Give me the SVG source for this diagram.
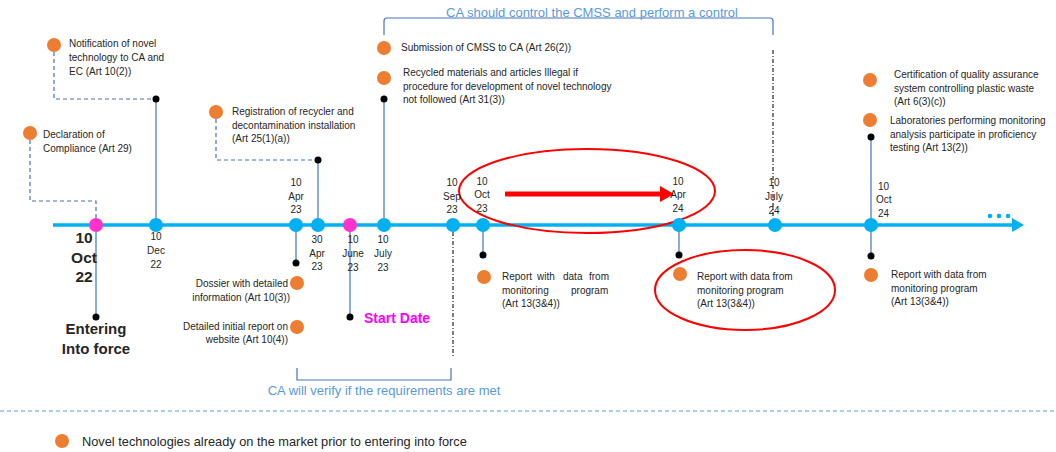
<svg xmlns="http://www.w3.org/2000/svg" width="1056" height="452" viewBox="0 0 1056 452">
<style>
text{font-family:"Liberation Sans",Arial,sans-serif;fill:#262626}
.t{font-size:10px}
.d{font-size:10px;text-anchor:middle}
.v{stroke:#4472C4;stroke-width:1.2;fill:none}
.dash{stroke:#4472C4;stroke-width:1.2;fill:none;stroke-dasharray:4 3}
.dd{stroke:#262626;stroke-width:1.2;fill:none;stroke-dasharray:4 2 1 2}
.br{stroke:#4472C4;stroke-width:1.2;fill:none}
.bt{font-size:13px;fill:#5B9BD5;text-anchor:middle}
.o{fill:#ED7D31}
.k{fill:#000}
.b{fill:#00B0F0}
.p{fill:#FF33CC}
</style>
<g id="connectors">
<line x1="53" y1="225" x2="1016" y2="225" stroke="#00B0F0" stroke-width="3.5"/>
<path d="M1012,218 L1024,225 L1012,232 z" fill="#00B0F0"/>
<path class="dash" d="M30,140 V201 H96 V218"/>
<path class="dash" d="M54,52 V99 H156"/>
<line class="v" x1="156" y1="99" x2="156" y2="225"/>
<line class="v" x1="96" y1="225" x2="96" y2="316"/>
<line class="v" x1="296" y1="225" x2="296" y2="263"/>
<path class="dash" d="M216,119 V160 H318"/>
<line class="v" x1="318" y1="160" x2="318" y2="225"/>
<line class="v" x1="350" y1="225" x2="350" y2="317"/>
<line class="v" x1="384" y1="99" x2="384" y2="225"/>
<line class="dd" x1="453" y1="232" x2="453" y2="358"/>
<line class="v" x1="483" y1="225" x2="483" y2="255"/>
<line class="v" x1="679" y1="225" x2="679" y2="255"/>
<line class="dd" x1="773" y1="50" x2="773" y2="218"/>
<line class="v" x1="871" y1="137" x2="871" y2="256"/>
<path class="br" d="M384,35 V21 Q384,18 387,18 H770 Q773,18 773,21 V35"/>
<path class="br" d="M297,368 V380 H451 V368"/>
<line x1="0" y1="411" x2="1056" y2="411" stroke="#5B9BD5" stroke-width="1" stroke-dasharray="4 3"/>
</g>
<g id="arrow-red">
<line x1="505" y1="194" x2="662" y2="194" stroke="#FF0000" stroke-width="5"/>
<path d="M660,186 L674,194 L660,202 z" fill="#FF0000"/>
</g>
<g id="ellipse-top"><ellipse cx="587" cy="191" rx="128" ry="42" fill="none" stroke="#FF0000" stroke-width="2"/></g>
<g id="ellipse-bottom"><ellipse cx="745" cy="290" rx="90" ry="40" fill="none" stroke="#FF0000" stroke-width="2"/></g>
<g id="n-oct22">
<circle class="p" cx="96" cy="225" r="7"/>
<circle class="k" cx="96" cy="317" r="3.5"/>
<text x="84" y="243" font-size="15.5" font-weight="bold" text-anchor="middle">10</text>
<text x="84" y="263" font-size="15.5" font-weight="bold" text-anchor="middle">Oct</text>
<text x="84" y="282" font-size="15.5" font-weight="bold" text-anchor="middle">22</text>
<text x="96" y="334" font-size="15" font-weight="bold" text-anchor="middle">Entering</text>
<text x="96" y="354" font-size="15" font-weight="bold" text-anchor="middle">Into force</text>
</g>
<g id="n-declaration">
<circle class="o" cx="30" cy="133" r="7"/>
<text class="t" x="43" y="138">Declaration of</text>
<text class="t" x="43" y="152">Compliance (Art 29)</text>
</g>
<g id="n-notification">
<circle class="o" cx="54" cy="45" r="7"/>
<text class="t" x="69" y="47">Notification of novel</text>
<text class="t" x="69" y="61">technology to CA and</text>
<text class="t" x="69" y="75">EC (Art 10(2))</text>
</g>
<g id="n-dec22">
<circle class="b" cx="156" cy="225" r="7"/>
<circle class="k" cx="156" cy="99" r="3.5"/>
<text class="d" x="156" y="240">10</text>
<text class="d" x="156" y="254">Dec</text>
<text class="d" x="156" y="268">22</text>
</g>
<g id="n-apr23">
<circle class="b" cx="296" cy="225" r="7"/>
<circle class="k" cx="296" cy="263" r="3.5"/>
<text class="d" x="296" y="186">10</text>
<text class="d" x="296" y="200">Apr</text>
<text class="d" x="296" y="213">23</text>
<circle class="o" cx="297" cy="283" r="7"/>
<text class="t" x="288" y="287" text-anchor="end">Dossier with detailed</text>
<text class="t" x="290" y="301" text-anchor="end">information (Art 10(3))</text>
<circle class="o" cx="297" cy="327" r="7"/>
<text class="t" x="288" y="330" text-anchor="end">Detailed initial report on</text>
<text class="t" x="288" y="343" text-anchor="end">website (Art 10(4))</text>
</g>
<g id="n-registration">
<circle class="o" cx="216" cy="112" r="7"/>
<text class="t" x="232" y="115">Registration of recycler and</text>
<text class="t" x="232" y="129">decontamination installation</text>
<text class="t" x="232" y="142">(Art 25(1)(a))</text>
</g>
<g id="n-apr23b">
<circle class="b" cx="318" cy="225" r="7"/>
<circle class="k" cx="318" cy="160" r="3.5"/>
<text class="d" x="317" y="243">30</text>
<text class="d" x="317" y="257">Apr</text>
<text class="d" x="317" y="270">23</text>
</g>
<g id="n-june23">
<circle class="p" cx="350" cy="225" r="7"/>
<circle class="k" cx="350" cy="317" r="3.5"/>
<text class="d" x="353" y="243">10</text>
<text class="d" x="353" y="257">June</text>
<text class="d" x="353" y="271">23</text>
<text x="364" y="323" font-size="14" font-weight="bold" style="fill:#FF00FF">Start Date</text>
</g>
<g id="n-july23">
<circle class="b" cx="384" cy="225" r="7"/>
<circle class="k" cx="384" cy="99" r="3.5"/>
<text class="d" x="383" y="243">10</text>
<text class="d" x="383" y="257">July</text>
<text class="d" x="383" y="271">23</text>
<circle class="o" cx="384" cy="48" r="7"/>
<text class="t" x="401" y="51">Submission of CMSS to CA (Art 26(2))</text>
<circle class="o" cx="384" cy="78" r="7"/>
<text class="t" x="403" y="76">Recycled materials and articles Illegal if</text>
<text class="t" x="403" y="90">procedure for development of novel technology</text>
<text class="t" x="403" y="103">not followed (Art 31(3))</text>
</g>
<g id="n-ca-control"><text class="bt" x="592" y="17">CA should control the CMSS and perform a control</text></g>
<g id="n-ca-verify"><text class="bt" x="384" y="395" font-size="12.7">CA will verify if the requirements are met</text></g>
<g id="n-sep23">
<circle class="b" cx="453" cy="225" r="7"/>
<text class="d" x="452" y="186">10</text>
<text class="d" x="452" y="200">Sep</text>
<text class="d" x="452" y="213">23</text>
</g>
<g id="n-oct23">
<circle class="b" cx="483" cy="225" r="7"/>
<circle class="k" cx="483" cy="255" r="3.5"/>
<text class="d" x="482" y="185">10</text>
<text class="d" x="482" y="198">Oct</text>
<text class="d" x="482" y="212">23</text>
<circle class="o" cx="484" cy="277" r="7"/>
<text class="t" y="280"><tspan x="502">Report</tspan><tspan x="537">with</tspan><tspan x="563">data</tspan><tspan x="589">from</tspan></text>
<text class="t" y="294"><tspan x="502">monitoring</tspan><tspan x="571">program</tspan></text>
<text class="t" x="502" y="307">(Art 13(3&amp;4))</text>
</g>
<g id="n-apr24">
<circle class="b" cx="679" cy="225" r="7"/>
<circle class="k" cx="679" cy="255" r="3.5"/>
<text class="d" x="678" y="185">10</text>
<text class="d" x="678" y="198">Apr</text>
<text class="d" x="678" y="212">24</text>
<circle class="o" cx="680" cy="274" r="7"/>
<text class="t" x="697" y="280">Report with data from</text>
<text class="t" x="697" y="294">monitoring program</text>
<text class="t" x="697" y="307">(Art 13(3&amp;4))</text>
</g>
<g id="n-july24">
<circle class="b" cx="775" cy="225" r="7"/>
<text class="d" x="774" y="186">10</text>
<text class="d" x="774" y="200">July</text>
<text class="d" x="774" y="214">24</text>
</g>
<g id="n-oct24">
<circle class="b" cx="871" cy="225" r="7"/>
<circle class="k" cx="871" cy="137" r="3.5"/>
<circle class="k" cx="871" cy="256" r="3.5"/>
<text class="t" x="878" y="190">10</text>
<text class="t" x="876" y="203">Oct</text>
<text class="t" x="878" y="217">24</text>
<circle class="o" cx="870" cy="80" r="7"/>
<text class="t" x="894" y="78">Certification of quality assurance</text>
<text class="t" x="894" y="92">system controlling plastic waste</text>
<text class="t" x="894" y="105">(Art 6(3)(c))</text>
<circle class="o" cx="870" cy="120" r="7"/>
<text class="t" x="890" y="124">Laboratories performing monitoring</text>
<text class="t" x="890" y="138">analysis participate in proficiency</text>
<text class="t" x="890" y="151">testing (Art 13(2))</text>
<circle class="o" cx="871" cy="275" r="7"/>
<text class="t" x="891" y="278">Report with data from</text>
<text class="t" x="891" y="292">monitoring program</text>
<text class="t" x="891" y="305">(Art 13(3&amp;4))</text>
</g>
<g id="n-ellipsis">
<circle class="b" cx="990" cy="216" r="2.3"/>
<circle class="b" cx="999" cy="216" r="2.3"/>
<circle class="b" cx="1008" cy="216" r="2.3"/>
</g>
<g id="n-legend">
<circle class="o" cx="62" cy="441" r="7"/>
<text x="82" y="446" font-size="12.8">Novel technologies already on the market prior to entering into force</text>
</g>
</svg>
